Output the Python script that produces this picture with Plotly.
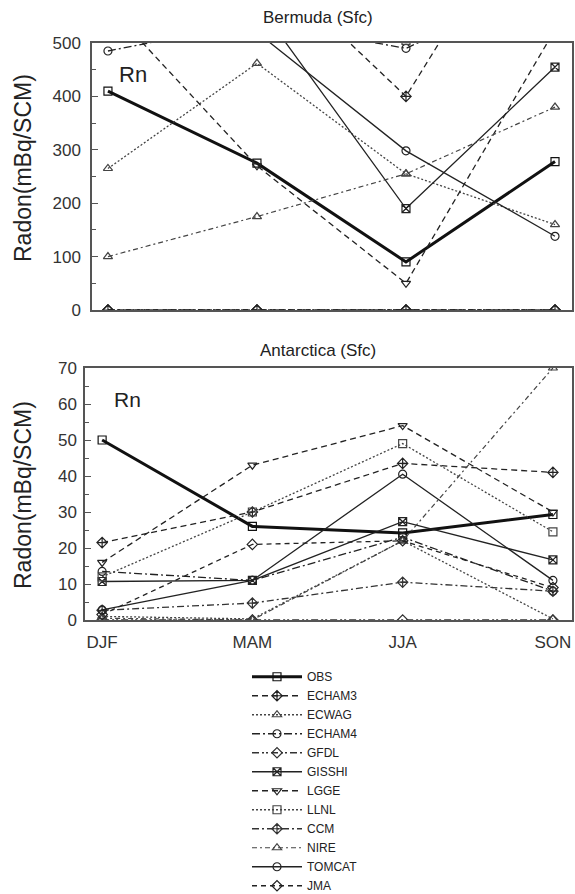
import plotly.graph_objects as go

W, H = 575, 894

seasons = ["DJF", "MAM", "JJA", "SON"]
models = ["OBS", "ECHAM3", "ECWAG", "ECHAM4", "GFDL", "GISSHI",
          "LGGE", "LLNL", "CCM", "NIRE", "TOMCAT", "JMA"]

# Bermuda (Sfc) radon, mBq/SCM (values above 500 run off the top of the panel)
bermuda_OBS = [410, 275, 90, 278]
bermuda_ECHAM3 = [700, 665, 400, 850]
bermuda_ECWAG = [265, 462, 255, 160]
bermuda_ECHAM4 = [485, 540, 490, 620]
bermuda_GFDL = [0, 0, 0, 0]
bermuda_GISSHI = [600, 575, 190, 455]
bermuda_LGGE = [570, 270, 50, 525]
bermuda_LLNL = [800, 700, 505, 900]
bermuda_CCM = [0, 0, 0, 0]
bermuda_NIRE = [100, 175, 255, 380]
bermuda_TOMCAT = [600, 520, 298, 138]
bermuda_JMA = [0, 0, 0, 0]

# Antarctica (Sfc) radon, mBq/SCM
antarctica_OBS = [50, 26, 24.2, 29.3]
antarctica_ECHAM3 = [21.5, 30, 43.5, 41]
antarctica_ECWAG = [1, 0.3, 22, 0.3]
antarctica_ECHAM4 = [13.5, 11, 23, 8]
antarctica_GFDL = [0, 0, 0, 0]
antarctica_GISSHI = [10.7, 11, 27.3, 16.7]
antarctica_LGGE = [16, 43, 54, 30]
antarctica_LLNL = [12, 30, 49, 24.5]
antarctica_CCM = [2.7, 4.7, 10.5, 8]
antarctica_NIRE = [0.5, 0, 22, 70]
antarctica_TOMCAT = [2.8, 11, 40.5, 11]
antarctica_JMA = [1.5, 21, 22, 9]

bermuda = {m: globals()["bermuda_" + m] for m in models}
antarctica = {m: globals()["antarctica_" + m] for m in models}

styles = {
    "OBS":    dict(dash="solid", width=3.0, color="#111", symbol="square-open"),
    "ECHAM3": dict(dash="6px,4px", width=1.3, color="#222", symbol="diamond-cross-open"),
    "ECWAG":  dict(dash="2px,2px", width=1.3, color="#444", symbol="triangle-up-open"),
    "ECHAM4": dict(dash="8px,3px,2px,3px", width=1.3, color="#222", symbol="circle-open"),
    "GFDL":   dict(dash="7px,3px,2px,2px,2px,3px", width=1.3, color="#333", symbol="diamond-open"),
    "GISSHI": dict(dash="solid", width=1.3, color="#222", symbol="square-x-open"),
    "LGGE":   dict(dash="6px,4px", width=1.3, color="#222", symbol="triangle-down-open"),
    "LLNL":   dict(dash="2px,2px", width=1.3, color="#444", symbol="square-open"),
    "CCM":    dict(dash="7px,3px,2px,3px", width=1.3, color="#333", symbol="diamond-cross-open"),
    "NIRE":   dict(dash="5px,3px,2px,3px", width=1.2, color="#444", symbol="triangle-up-open"),
    "TOMCAT": dict(dash="solid", width=1.3, color="#222", symbol="circle-open"),
    "JMA":    dict(dash="5px,4px", width=1.3, color="#222", symbol="diamond-open"),
}

x = list(range(len(seasons)))
fig = go.Figure()

for site, data, xa, ya, show in [("Bermuda", bermuda, "x", "y", True),
                                 ("Antarctica", antarctica, "x2", "y2", False)]:
    for m in models:
        s = styles[m]
        fig.add_trace(go.Scatter(
            x=x, y=data[m], name=m, legendgroup=m, showlegend=show,
            xaxis=xa, yaxis=ya, mode="lines+markers",
            line=dict(color=s["color"], width=s["width"], dash=s["dash"]),
            marker=dict(symbol=s["symbol"], size=8,
                        color=s["color"], line=dict(width=1.2, color=s["color"])),
            cliponaxis=True,
        ))

FONT = "Liberation Sans, Arial, Helvetica, sans-serif"
axis_common = dict(showline=True, linecolor="#555", linewidth=1.5, mirror=True,
                   showgrid=False, zeroline=False)

def px_x(a, b):
    return [a / W, b / W]

def px_y(top, bottom):
    return [1 - bottom / H, 1 - top / H]

fig.update_layout(
    width=W, height=H, margin=dict(l=0, r=0, t=0, b=0, autoexpand=False),
    paper_bgcolor="white", plot_bgcolor="white",
    font=dict(family=FONT, color="#222"),
    xaxis=dict(domain=px_x(92, 572), anchor="y", range=[-0.107, 3.114],
               tickvals=x, ticktext=seasons, showticklabels=False, ticks="",
               **axis_common),
    yaxis=dict(domain=px_y(43, 310), anchor="x", range=[0, 500],
               tickvals=[0, 100, 200, 300, 400, 500], ticks="inside", ticklen=6,
               tickcolor="#555", tickwidth=1.2,
               minor=dict(ticks="inside", dtick=50, ticklen=4, tickcolor="#555"),
               tickfont=dict(size=17, family=FONT, color="#333"),
               ticklabelstandoff=6, **axis_common),
    xaxis2=dict(domain=px_x(85, 572), anchor="y2", range=[-0.114, 3.127],
                tickvals=x, ticktext=seasons, ticks="",
                tickfont=dict(size=17, family=FONT, color="#333"),
                ticklabelstandoff=6, **axis_common),
    yaxis2=dict(domain=px_y(368, 620), anchor="x2", range=[0, 70],
                tickvals=[0, 10, 20, 30, 40, 50, 60, 70], ticks="inside", ticklen=6,
                tickcolor="#555", tickwidth=1.2,
                minor=dict(ticks="inside", dtick=5, ticklen=4, tickcolor="#555"),
                tickfont=dict(size=17, family=FONT, color="#333"),
                ticklabelstandoff=3, **axis_common),
    legend=dict(x=247 / W, y=-0.007, xanchor="left", yanchor="bottom",
                font=dict(size=12, family=FONT, color="#222"),
                bgcolor="rgba(0,0,0,0)", itemwidth=50, tracegroupgap=0),
)

annots = [
    dict(text="Bermuda (Sfc)", x=318 / W, y=1 - 18 / H, size=17),
    dict(text="Antarctica (Sfc)", x=318 / W, y=1 - 350 / H, size=17),
    dict(text="Rn", x=133 / W, y=1 - 74 / H, size=22),
    dict(text="Rn", x=127 / W, y=1 - 399 / H, size=21),
]
for a in annots:
    fig.add_annotation(text=a["text"], x=a["x"], y=a["y"], xref="paper", yref="paper",
                       showarrow=False, xanchor="center", yanchor="middle",
                       font=dict(size=a["size"], family=FONT, color="#222"))
for yc in [168, 495]:
    fig.add_annotation(text="Radon(mBq/SCM)", x=23 / W, y=1 - yc / H,
                       xref="paper", yref="paper", showarrow=False, textangle=-90,
                       xanchor="center", yanchor="middle",
                       font=dict(size=23, family=FONT, color="#222"))

fig.write_html("out.html")
